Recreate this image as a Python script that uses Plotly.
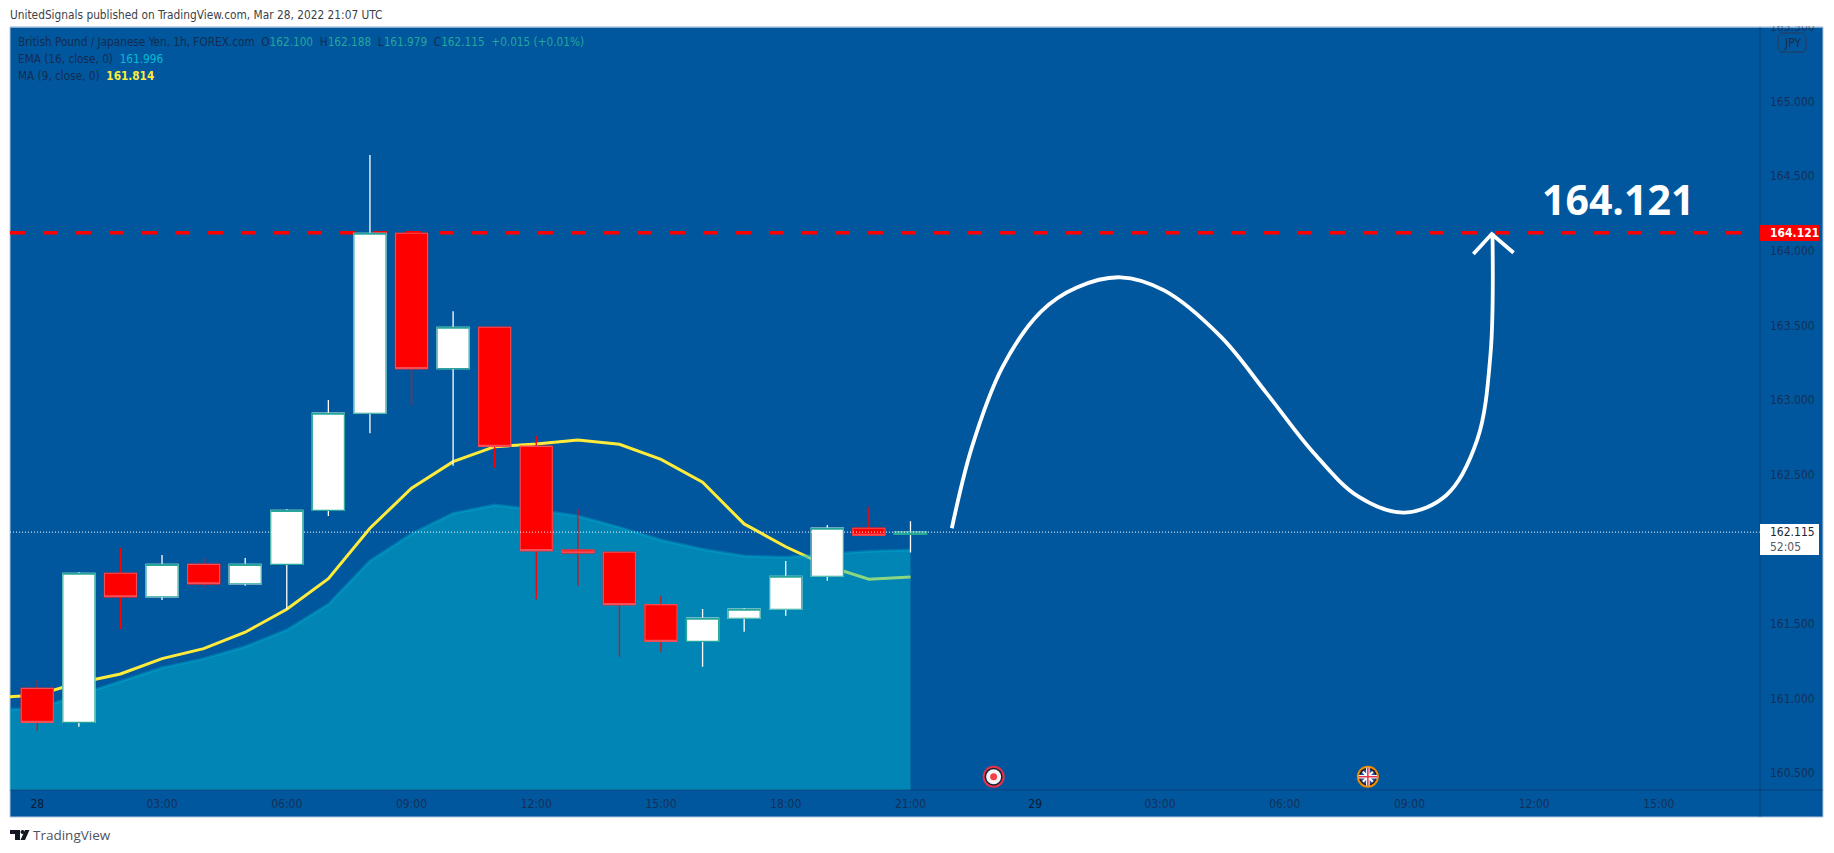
import pandas as pd
import plotly.graph_objects as go

# ---------- data ----------
candle_hours = list(range(22))
opens  = [161.068,160.840,161.839,161.682,161.899,161.769,161.899,162.261,162.912,164.118,163.211,163.488,162.690,161.995,161.980,161.629,161.383,161.538,161.598,161.819,162.141,162.100]
highs  = [161.124,161.848,162.009,161.962,161.944,161.942,162.270,163.001,164.643,164.140,163.595,163.488,162.759,162.268,161.980,161.687,161.600,161.606,161.922,162.163,162.281,162.188]
lows   = [160.782,160.811,161.466,161.660,161.743,161.756,161.598,162.223,162.777,162.965,162.560,162.547,161.665,161.756,161.280,161.314,161.213,161.448,161.555,161.790,162.094,161.979]
closes = [160.840,161.839,161.682,161.899,161.769,161.899,162.261,162.912,164.118,163.211,163.488,162.690,161.991,161.977,161.629,161.383,161.538,161.598,161.819,162.141,162.094,162.115]

ind_hours = list(range(-1, 22))
ma_values  = [161.007,161.023,161.106,161.164,161.267,161.334,161.444,161.598,161.803,162.141,162.409,162.587,162.688,162.706,162.733,162.704,162.603,162.449,162.170,162.017,161.888,161.799,161.814]
ema_values = [160.926,160.932,161.023,161.113,161.206,161.267,161.347,161.459,161.631,161.922,162.103,162.241,162.297,162.263,162.223,162.147,162.062,162.000,161.955,161.946,161.969,161.987,161.996]

curve_hours  = [21.994,22.481,23.218,24.138,25.000,26.050,27.100,28.463,29.568,30.672,31.776,32.881,33.893,34.629,34.951,34.997]
curve_prices = [162.141,162.688,163.224,163.593,163.755,163.823,163.735,163.425,163.045,162.654,162.353,162.246,162.364,162.733,163.313,164.118]
arrow_hours  = [34.537,34.979,35.504]
arrow_prices = [163.979,164.113,163.988]

target_price = 164.121
last_price = 162.115
event_hours = [23, 32]
event_price = 160.476

price_ticks = [160.5,161.0,161.5,162.5,163.0,163.5,164.0,164.5,165.0,165.5]
time_tick_hours = [0,3,6,9,12,15,18,21,24,27,30,33,36,39]
time_tick_labels = ["<span style='color:#0b1a33'>28</span>","03:00","06:00","09:00","12:00","15:00","18:00","21:00","<span style='color:#0b1a33'>29</span>","03:00","06:00","09:00","12:00","15:00"]

# ---------- geometry (page pixels) ----------
PX_L, PX_R, PX_T, PX_B = 10, 1760, 27, 790
CHART_R, CHART_B = 1823, 817
X_RANGE_H = [(PX_L-37.3)/41.58, (PX_R-37.3)/41.58]
Y_RANGE = [165.6816-PX_B/149.2, 165.6816-PX_T/149.2]

BG = "#00579d"
AXIS_TXT = "#14305a"
FONT = "DejaVu Sans Condensed, Open Sans"

def fx(px): return (px-PX_L)/(PX_R-PX_L)
def fy(py): return 1-(py-PX_T)/(PX_B-PX_T)
def to_time(hours): return pd.Timestamp("2022-03-28")+pd.to_timedelta(pd.Series(hours,dtype=float),unit="h")

x_range = list(to_time(X_RANGE_H))
fig = go.Figure()

# under layer
fig.add_trace(go.Scatter(x=to_time(ind_hours),y=ma_values,mode="lines",line=dict(color="#ffeb3b",width=3),hoverinfo="skip",showlegend=False))
fig.add_trace(go.Scatter(x=to_time(ind_hours),y=ema_values,mode="lines",fill="tozeroy",fillcolor="rgba(0,188,212,0.455)",line=dict(color="rgba(0,188,212,0.3)",width=3),hoverinfo="skip",showlegend=False))
fig.add_trace(go.Scatter(x=x_range,y=[target_price,target_price],mode="lines",line=dict(color="#ff0000",width=3.5,dash="15px,18px"),hoverinfo="skip",showlegend=False))

# candles
body_hi=[max(o,c) for o,c in zip(opens,closes)]
body_lo=[min(o,c) for o,c in zip(opens,closes)]
fig.add_trace(go.Candlestick(x=to_time(candle_hours),open=opens,high=highs,low=lows,close=closes,xaxis="x2",yaxis="y2",
    increasing=dict(line=dict(color="#ffffff",width=1.3),fillcolor="#ffffff"),
    decreasing=dict(line=dict(color="#ff0000",width=1.3),fillcolor="#ff0000"),hoverinfo="skip",showlegend=False))
fig.add_trace(go.Candlestick(x=to_time(candle_hours),open=opens,high=body_hi,low=body_lo,close=closes,xaxis="x2",yaxis="y2",
    increasing=dict(line=dict(color="#26a69a",width=1.1),fillcolor="#ffffff"),
    decreasing=dict(line=dict(color="#f44d55",width=1.1),fillcolor="#ff0000"),hoverinfo="skip",showlegend=False))

# top layer
top=dict(xaxis="x3",yaxis="y3",hoverinfo="skip",showlegend=False)
fig.add_trace(go.Scatter(x=x_range,y=[last_price,last_price],mode="lines",line=dict(color="#ffffff",width=1,dash="1px,2px"),**top))
fig.add_trace(go.Scatter(x=to_time(curve_hours),y=curve_prices,mode="lines",line=dict(color="#ffffff",width=3.8,shape="spline",smoothing=1.0),**top))
fig.add_trace(go.Scatter(x=to_time(arrow_hours),y=arrow_prices,mode="lines",line=dict(color="#ffffff",width=3.8),**top))

ev_x=to_time(event_hours); ev_y=[event_price]*2
def ev(i,size,color,symbol="circle",lw=0,lc=None):
    fig.add_trace(go.Scatter(x=[ev_x[i]],y=[ev_y[i]],mode="markers",marker=dict(size=size,color=color,symbol=symbol,line=dict(width=lw,color=lc or color)),**top))
ev(0,22,"#e8304a"); ev(0,18,"#1a1f2e"); ev(0,15,"#f4f4f6"); ev(0,7,"#f5404a")
ev(1,22,"#f08c00"); ev(1,18,"#1a1f2e"); ev(1,15,"#2a4f9e")
ev(1,10,"#ffffff","x-thin",2,"#ffffff"); ev(1,13,"#ffffff","cross-thin",3.5,"#ffffff"); ev(1,13,"#e63950","cross-thin",1.6,"#e63950")

# shapes
def rect(x0,y0,x1,y1,fill,layer="above",line=None):
    return dict(type="rect",xref="paper",yref="paper",x0=fx(x0),x1=fx(x1),y0=fy(y0),y1=fy(y1),fillcolor=fill,layer=layer,line=dict(width=0 if line is None else 1,color=line or fill))
def seg(x0,y0,x1,y1,color,layer="above"):
    return dict(type="line",xref="paper",yref="paper",x0=fx(x0),x1=fx(x1),y0=fy(y0),y1=fy(y1),layer=layer,line=dict(width=1,color=color))
def poly(points,fill):
    d="M"+" L".join(f"{fx(a):.5f},{fy(b):.5f}" for a,b in points)+" Z"
    return dict(type="path",path=d,xref="paper",yref="paper",fillcolor=fill,line=dict(width=0),layer="above")

badge=[(1781,33),(1803,33),(1806,36),(1806,49),(1803,52),(1781,52),(1778,49),(1778,36)]
shapes=[
    rect(PX_L,PX_T,CHART_R,CHART_B,BG,"below","#b3c7de"),
    rect(PX_R-1,0,CHART_R+1,PX_T-1,"#ffffff"),
    seg(PX_L,PX_T,CHART_R,PX_T,"#b3c7de"),
    seg(PX_L,PX_B,CHART_R,PX_B,"rgba(20,40,75,0.45)"),
    seg(PX_R,PX_T,PX_R,CHART_B,"rgba(20,40,75,0.45)"),
    rect(1760,225,1819,241,"#ff0000"),
    rect(1760,524,1819,555,"#ffffff"),
    poly(badge,BG),
    dict(type="path",path="M"+" L".join(f"{fx(a):.5f},{fy(b):.5f}" for a,b in badge)+" Z",
         xref="paper",yref="paper",line=dict(width=1,color="#2b3a55"),layer="above"),
    poly([(10,830),(20,830),(20,840),(15,840),(15,834),(10,834)],"#131722"),
    poly([(25,830),(29.5,830),(25,840),(20.5,840)],"#131722"),
    dict(type="circle",xref="paper",yref="paper",x0=fx(20.5),x1=fx(24.5),y0=fy(834),y1=fy(830),fillcolor="#131722",line=dict(width=0),layer="above"),
]

# text
def note(px,py,text,size=12,color=AXIS_TXT,anchor="left",family=FONT):
    return dict(xref="paper",yref="paper",x=fx(px),y=fy(py),text=text,showarrow=False,xanchor=anchor,yanchor="middle",
                align=anchor,font=dict(size=size,color=color,family=family),borderpad=0,borderwidth=0)
def val(t,c="#26a69a"): return f'<span style="color:{c}">{t}</span>'
DK="#142c52"
annos=[
    note(10,14.7,"UnitedSignals published on TradingView.com, Mar 28, 2022 21:07 UTC",11.8,"#3c3f48"),
    note(18,41.5,"British Pound / Japanese Yen, 1h, FOREX.com  O"+val("162.100")+"  H"+val("162.188")+"  L"+val("161.979")+"  C"+val("162.115")+"  "+val("+0.015 (+0.01%)"),11.7,DK),
    note(18,59,"EMA (16, close, 0)  "+val("161.996","#00bcd4"),11.7,DK),
    note(18,75.5,"MA (9, close, 0)  "+val("<b>161.814</b>","#ffeb3b"),11.7,DK),
    note(1618,199,"<b>164.121</b>",41,"#ffffff","center","Open Sans"),
    note(1770,233,"<b>164.121</b>",12,"#ffffff"),
    note(1770,532,"162.115",12,"#222631"),
    note(1770,547,"52:05",12,"#555a66"),
    note(1792,42.5,"JPY",12,"#1c2c48","center"),
    note(33,835,"TradingView",13.5,"#50535e","left","Open Sans"),
]

fig.update_layout(
    width=1834,height=853,
    margin=dict(l=PX_L,r=1834-PX_R,t=PX_T,b=853-PX_B,pad=0,autoexpand=False),
    paper_bgcolor="#ffffff",plot_bgcolor="rgba(0,0,0,0)",
    boxgap=0.23,boxgroupgap=0,boxmode="overlay",showlegend=False,hovermode=False,
    shapes=shapes,annotations=annos,font=dict(family=FONT,size=12,color=AXIS_TXT),
    xaxis=dict(type="date",range=x_range,tickmode="array",tickvals=list(to_time(time_tick_hours)),ticktext=time_tick_labels,
               showgrid=False,zeroline=False,showline=False,ticks="",ticklabelstandoff=5,tickangle=0,
               tickfont=dict(size=12,color=AXIS_TXT,family=FONT),rangeslider=dict(visible=False),automargin=False),
    yaxis=dict(range=Y_RANGE,side="right",tickmode="array",tickvals=price_ticks,ticktext=[f"{p:.3f}" for p in price_ticks],
               showgrid=False,zeroline=False,showline=False,ticks="",ticklabelstandoff=9,
               tickfont=dict(size=12,color=AXIS_TXT,family=FONT),automargin=False),
    xaxis2=dict(type="date",range=x_range,overlaying="x",visible=False,rangeslider=dict(visible=False)),
    yaxis2=dict(range=Y_RANGE,overlaying="y",side="right",visible=False),
    xaxis3=dict(type="date",range=x_range,overlaying="x",visible=False),
    yaxis3=dict(range=Y_RANGE,overlaying="y",side="right",visible=False),
)

fig.write_html("out.html", config=dict(displayModeBar=False),
               post_script="document.body.style.margin='0';")
